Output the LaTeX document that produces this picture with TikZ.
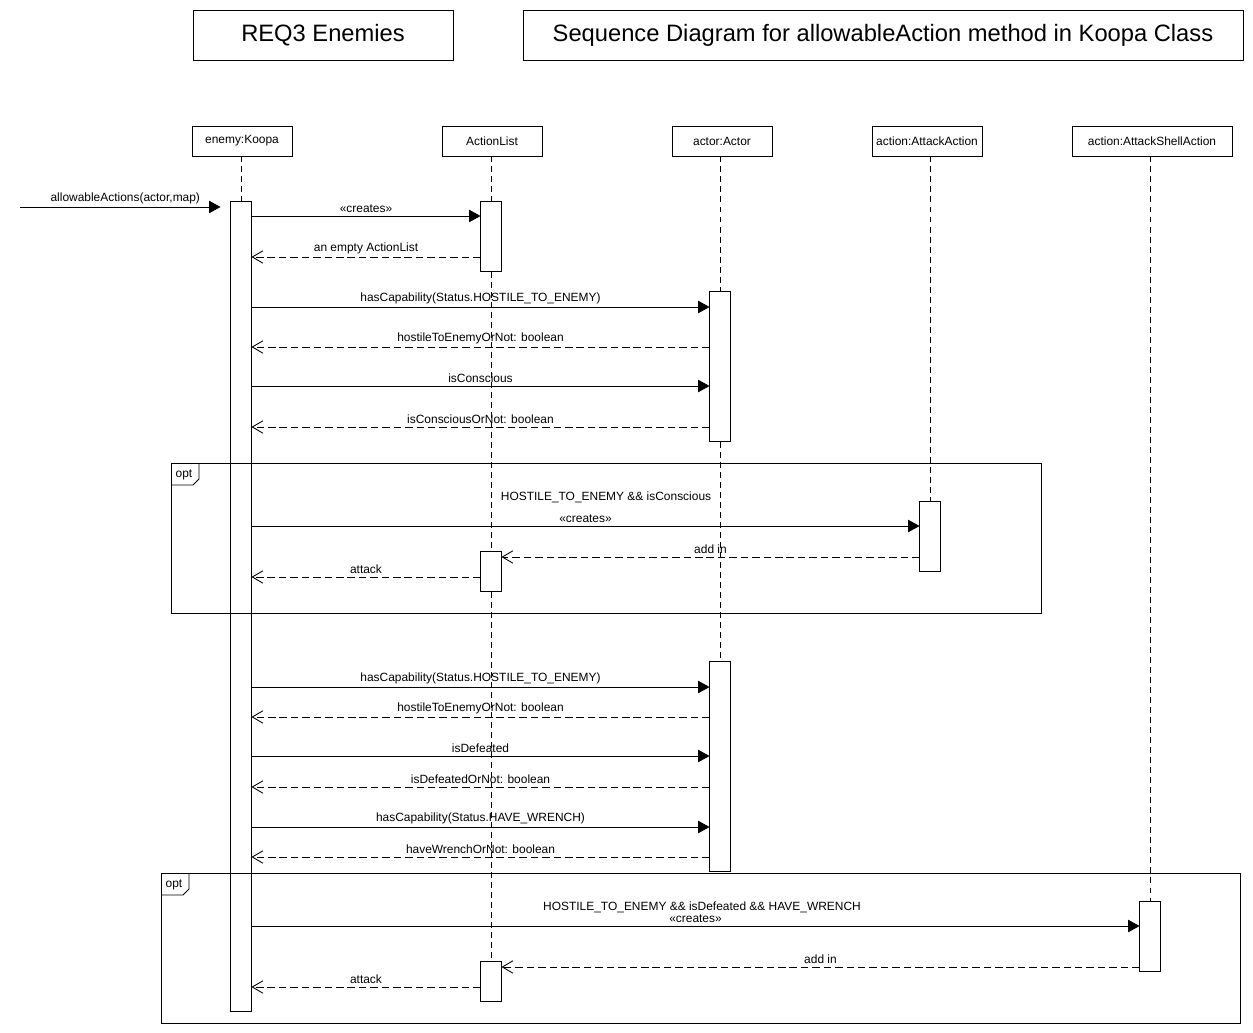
\documentclass[tikz,border=0pt]{standalone}
\usepackage{fontspec}
\setmainfont{Liberation Sans}
\usetikzlibrary{arrows.meta,positioning}

\begin{document}
\begin{tikzpicture}[x=0.02cm, y=-0.02cm, line width=0.5pt, font=\fontsize{6.8}{8}\selectfont]
\tikzstyle{titlebox} = [draw, minimum height=1cm, font=\fontsize{13.5}{16}\selectfont]
\tikzstyle{headbox} = [draw, minimum height=0.6cm, inner sep=1pt]
\tikzstyle{act} = [minimum width=0.4cm, anchor=north, inner sep=0pt]
\tikzstyle{life} = [dash pattern=on 3.4pt off 2.3pt]
\tikzstyle{call} = [-{Triangle[length=6.5pt,width=7pt]}]
\tikzstyle{ret} = [dash pattern=on 4.3pt off 2.2pt, -{Straight Barb[length=6pt,width=7pt]}]
\tikzstyle{lbl} = [midway, above, inner sep=1.5pt]
\useasboundingbox (0,0) rectangle (1253,1033);

% titles
\node[titlebox, minimum width=5.2cm] (req) at (323,35) {REQ3 Enemies};
\node[titlebox, minimum width=14.4cm] (sd) at (883,35) {Sequence Diagram for allowableAction method in Koopa Class};

% lifeline heads
\node[headbox, minimum width=2cm] (koopa) at (242,141) {enemy:Koopa};
\node[headbox, minimum width=2cm] (alist) at (492,141) {ActionList};
\node[headbox, minimum width=2cm] (actor) at (722,141) {actor:Actor};
\node[headbox, minimum width=2.2cm] (attack) at (927,141) {action:AttackAction};
\node[headbox, minimum width=3.2cm] (shell) at (1152,141) {action:AttackShellAction};

% activations
\node[act, minimum height=16.2cm] (k1) at (241,201) {};
\node[act, minimum height=1.4cm] (al1) at (491,201) {};
\node[act, minimum height=3cm] (ac1) at (720,291) {};
\node[act, minimum height=1.4cm] (aa1) at (930,501) {};
\node[act, minimum height=0.8cm] (al2) at (491,551) {};
\node[act, minimum height=4.2cm] (ac2) at (720,661) {};
\node[act, minimum height=1.4cm] (as1) at (1150,901) {};
\node[act, minimum height=0.8cm] (al3) at (491,961) {};

% lifelines
\draw[life] (k1.north |- koopa.south) -- (k1.north);
\draw[life] (al1.north |- alist.south) -- (al1.north);
\draw[life] (al1.south) -- (al2.north);
\draw[life] (al2.south) -- (al3.north);
\draw[life] (ac1.north |- actor.south) -- (ac1.north);
\draw[life] (ac1.south) -- (ac2.north);
\draw[life] (aa1.north |- attack.south) -- (aa1.north);
\draw[life] (as1.north |- shell.south) -- (as1.north);
\foreach \a in {k1,al1,ac1,aa1,al2,ac2,as1,al3}
  \draw[fill=white] (\a.north west) rectangle (\a.south east);

% opt frames
\draw (171,463) rectangle (1041,613);
\draw (171,485) -- (193,485) -- (199,479) -- (199,463);
\node (opt1) at (184,475) {opt};
\node (g1) at (606,497) {HOSTILE\_TO\_ENEMY \&\& isConscious};
\draw (161,873) rectangle (1240,1023);
\draw (161,895) -- (183,895) -- (189,889) -- (189,873);
\node (opt2) at (174,885) {opt};
\node (g2) at (702,907) {HOSTILE\_TO\_ENEMY \&\& isDefeated \&\& HAVE\_WRENCH};

% messages
\coordinate (in) at (20,207);
\draw[call, shorten >=0.2cm] (in) -- node[lbl] {allowableActions(actor,map)} (k1.west |- in);
\draw[call] (k1.east |- 0,216) -- node[lbl] {«creates»} (al1.west |- 0,216);
\draw[ret] (al1.west |- 0,257) -- node[lbl] {an empty ActionList} (k1.east |- 0,257);
\draw[call] (k1.east |- 0,307) -- node[lbl] {hasCapability(Status.HOSTILE\_TO\_ENEMY)} (ac1.west |- 0,307);
\draw[ret] (ac1.west |- 0,347) -- node[lbl] {hostileToEnemyOrNot: boolean} (k1.east |- 0,347);
\draw[call] (k1.east |- 0,386) -- node[lbl] {isConscious} (ac1.west |- 0,386);
\draw[ret] (ac1.west |- 0,427) -- node[lbl] {isConsciousOrNot: boolean} (k1.east |- 0,427);
\draw[call] (k1.east |- 0,526) -- node[lbl] {«creates»} (aa1.west |- 0,526);
\draw[ret] (aa1.west |- 0,557) -- node[lbl] {add in} (al2.east |- 0,557);
\draw[ret] (al2.west |- 0,577) -- node[lbl] {attack} (k1.east |- 0,577);
\draw[call] (k1.east |- 0,687) -- node[lbl] {hasCapability(Status.HOSTILE\_TO\_ENEMY)} (ac2.west |- 0,687);
\draw[ret] (ac2.west |- 0,717) -- node[lbl] {hostileToEnemyOrNot: boolean} (k1.east |- 0,717);
\draw[call] (k1.east |- 0,756) -- node[lbl] {isDefeated} (ac2.west |- 0,756);
\draw[ret] (ac2.west |- 0,787) -- node[lbl] {isDefeatedOrNot: boolean} (k1.east |- 0,787);
\draw[call] (k1.east |- 0,827) -- node[lbl] {hasCapability(Status.HAVE\_WRENCH)} (ac2.west |- 0,827);
\draw[ret] (ac2.west |- 0,857) -- node[lbl] {haveWrenchOrNot: boolean} (k1.east |- 0,857);
\draw[call] (k1.east |- 0,926) -- node[lbl] {«creates»} (as1.west |- 0,926);
\draw[ret] (as1.west |- 0,967) -- node[lbl] {add in} (al3.east |- 0,967);
\draw[ret] (al3.west |- 0,987) -- node[lbl] {attack} (k1.east |- 0,987);
\end{tikzpicture}
\end{document}
